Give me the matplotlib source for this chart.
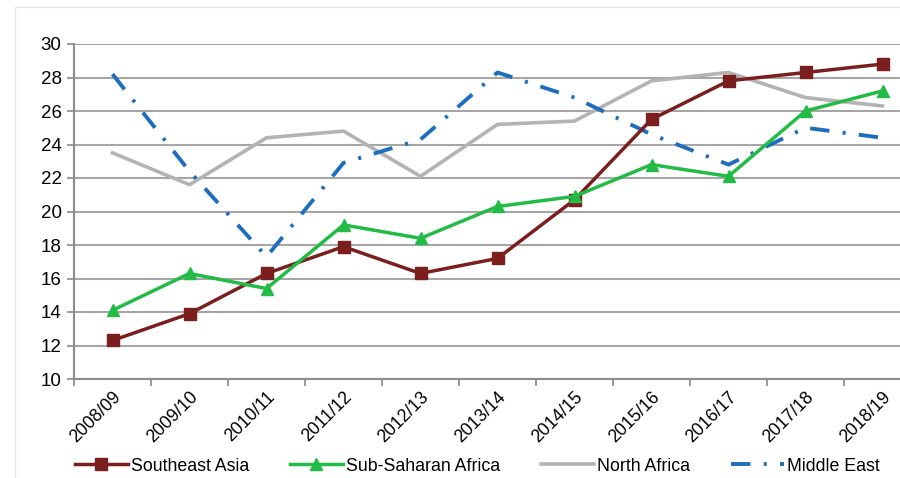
import matplotlib.pyplot as plt
from matplotlib.patches import Rectangle

plt.rcParams['font.family'] = ['Liberation Sans', 'DejaVu Sans']

# Seasons and series
seasons = ['2008/09', '2009/10', '2010/11', '2011/12', '2012/13', '2013/14',
           '2014/15', '2015/16', '2016/17', '2017/18', '2018/19']
southeast_asia = [12.3, 13.9, 16.3, 17.9, 16.3, 17.2, 20.7, 25.5, 27.8, 28.3, 28.8]
sub_saharan = [14.1, 16.3, 15.4, 19.2, 18.4, 20.3, 20.9, 22.8, 22.1, 26.0, 27.2]
north_africa = [23.5, 21.6, 24.4, 24.8, 22.1, 25.2, 25.4, 27.8, 28.3, 26.8, 26.3]
middle_east = [28.2, 22.4, 17.3, 22.9, 24.3, 28.3, 26.8, 24.6, 22.8, 25.0, 24.4]
y_ticks = [10, 12, 14, 16, 18, 20, 22, 24, 26, 28, 30]

fig = plt.figure(figsize=(9, 4.78), dpi=100)
# the plot area runs past the right edge of the figure
ax = fig.add_axes([74 / 900, 1 - 379 / 478, 847 / 900, 335 / 478])

x = list(range(len(seasons)))
ax.plot(x, southeast_asia, color='#7A1E1E', lw=2.5, marker='s', ms=8.5,
        label='Southeast Asia', zorder=4)
ax.plot(x, sub_saharan, color='#22BB45', lw=2.5, marker='^', ms=9,
        label='Sub-Saharan Africa', zorder=4)
ax.plot(x, north_africa, color='#B3B3B3', lw=2.6, label='North Africa', zorder=3)
ax.plot(x, middle_east, color='#1F6EBE', lw=2.8, dashes=(5.0, 3.4, 0.8, 3.4),
        label='Middle East', zorder=3)

ax.set_xlim(-0.5, len(seasons) - 0.5)
ax.set_ylim(10, 30)
ax.set_yticks(y_ticks)
ax.tick_params(axis='y', labelsize=13.5, length=5, width=1.2, color='#888888', pad=4)

# category labels centred, tick marks between categories
ax.set_xticks(x)
ax.set_xticklabels(seasons, rotation=45, ha='right', va='top',
                   rotation_mode='anchor', fontsize=12.7)
ax.tick_params(axis='x', which='major', length=0, pad=7)
ax.set_xticks([i - 0.5 for i in range(len(seasons) + 1)], minor=True)
ax.tick_params(axis='x', which='minor', length=5, width=1.2, color='#888888')

ax.grid(axis='y', color='#A6A6A6', lw=1.5)
ax.set_axisbelow(True)
for side in ['top', 'right']:
    ax.spines[side].set_visible(False)
for side in ['left', 'bottom']:
    ax.spines[side].set_color('#8C8C8C')
    ax.spines[side].set_linewidth(1.5)

handles, labels = ax.get_legend_handles_labels()
fig.legend(handles, labels, loc='center', bbox_to_anchor=(0.53, 0.025),
           ncol=4, frameon=False, fontsize=12.8, handlelength=3.0,
           handletextpad=0.15, columnspacing=2.3)

# faint outer frame
fig.add_artist(Rectangle((15 / 900, -0.05), 1.0, 1 - 7 / 478 + 0.05,
                         transform=fig.transFigure, fill=False,
                         edgecolor='#E6E6E6', lw=1.0))

fig.savefig('out.png', dpi=100)
